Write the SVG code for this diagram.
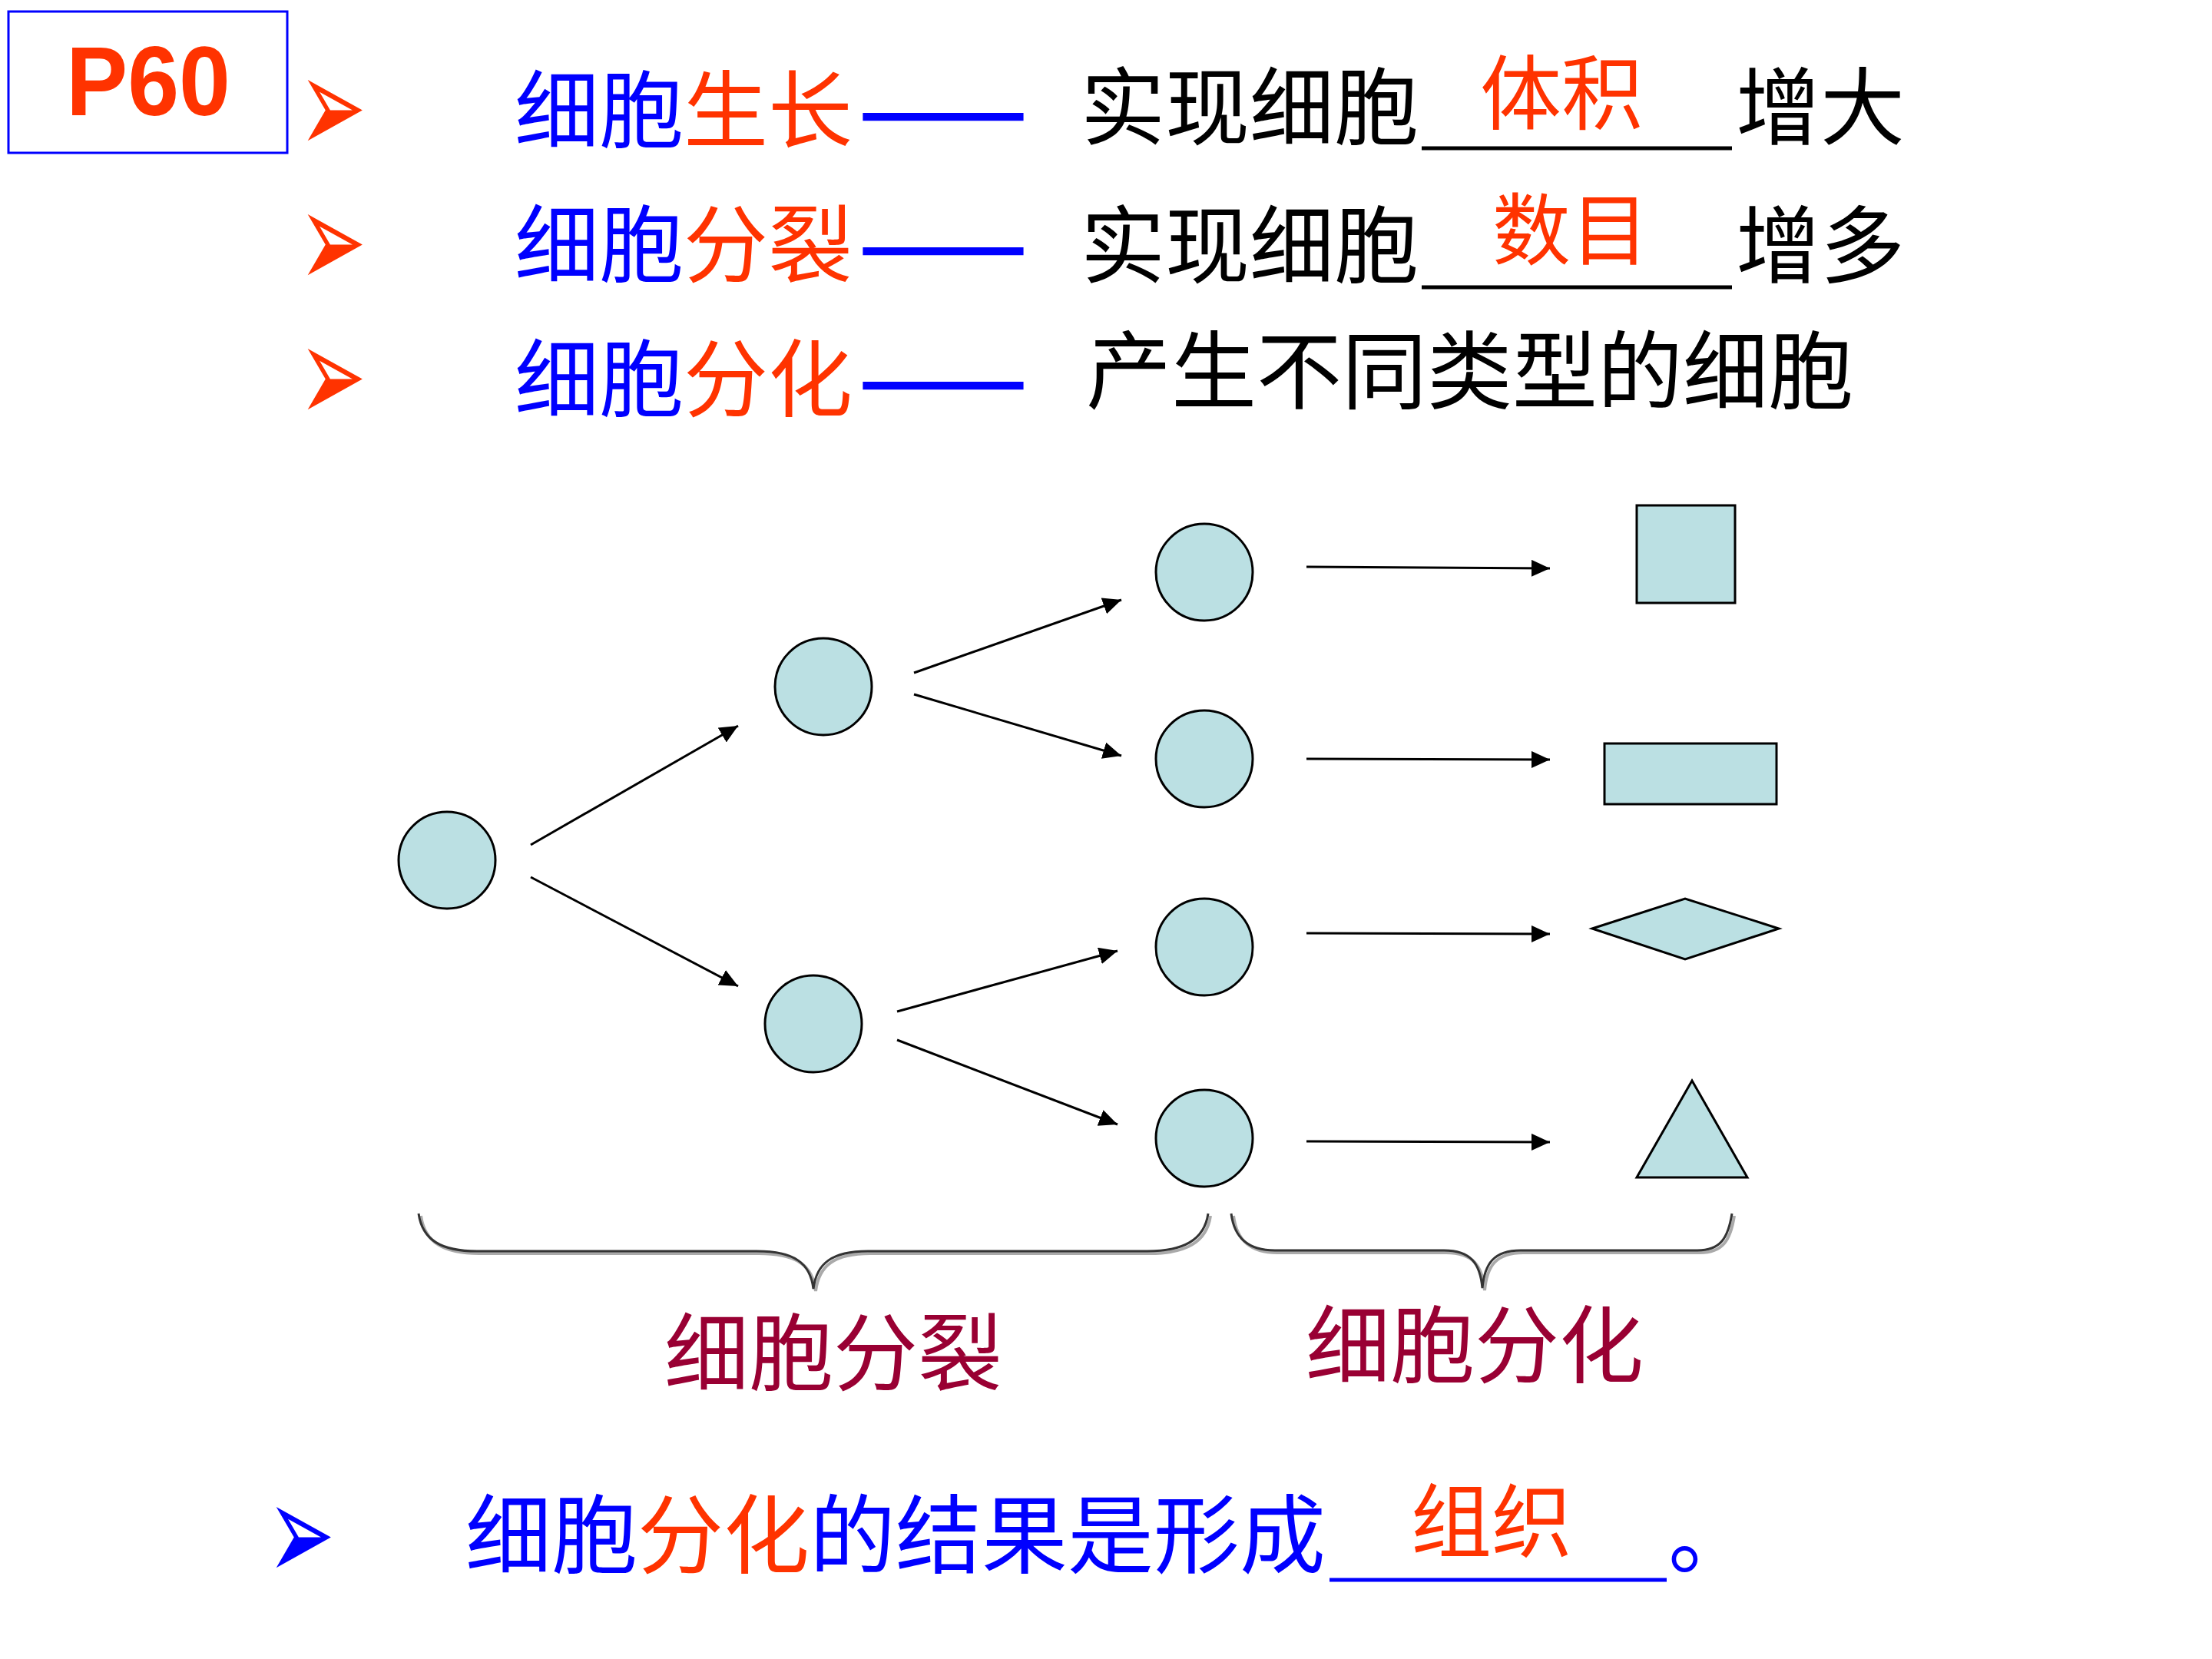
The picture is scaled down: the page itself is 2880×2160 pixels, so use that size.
<svg xmlns="http://www.w3.org/2000/svg" width="2880" height="2160" viewBox="0 0 2880 2160">
<defs>
<style>
.cjk{font-family:"Noto Sans CJK SC","Noto Sans",sans-serif;font-size:110px}
.dash{font-family:"Noto Sans CJK SC","Noto Sans",sans-serif;font-size:110px;font-weight:bold;fill:#0000FF}
.b{fill:#0000FF}
.r{fill:#FF3300}
.k{fill:#000000}
.m{fill:#990033}
.bul{font-family:"DejaVu Sans",sans-serif;font-size:100px}
.cell{fill:#BBE0E3;stroke:#000;stroke-width:3}
.conn line{stroke:#000;stroke-width:3;marker-end:url(#ah)}
.brace{fill:none;stroke:#333;stroke-width:3}
.brsh{fill:none;stroke:#AAA;stroke-width:4}
</style>
<marker id="ah" markerUnits="userSpaceOnUse" markerWidth="26" markerHeight="24" refX="24" refY="11" orient="auto">
<path d="M0,0 L24,11 L0,22 Z" fill="#000"/>
</marker>
</defs>
<rect width="2880" height="2160" fill="#fff"/>

<g id="p60">
<rect x="11" y="15" width="363" height="184" fill="none" stroke="#0000FF" stroke-width="3"/>
<text x="193" y="150" text-anchor="middle" font-family="Liberation Sans, Arial, sans-serif" font-weight="bold" font-size="128" fill="#FF3300" textLength="214" lengthAdjust="spacingAndGlyphs">P60</text>
</g>

<g id="row1">
<text class="bul r" transform="translate(389,200) scale(1.05,1.8)">➢</text>
<text class="cjk" x="670" y="184"><tspan class="b">细胞</tspan><tspan class="r">生长</tspan></text>
<text class="dash" x="1117" y="184" textLength="222" lengthAdjust="spacingAndGlyphs">——</text>
<text class="cjk k" x="1407" y="180">实现细胞</text>
<line x1="1851" y1="193" x2="2255" y2="193" stroke="#000" stroke-width="5"/>
<text class="cjk r" x="1927" y="160" style="font-size:106px">体积</text>
<text class="cjk k" x="2260" y="180">增大</text>
</g>

<g id="row2">
<text class="bul r" transform="translate(389,375) scale(1.05,1.8)">➢</text>
<text class="cjk" x="670" y="359"><tspan class="b">细胞</tspan><tspan class="r">分裂</tspan></text>
<text class="dash" x="1117" y="359" textLength="222" lengthAdjust="spacingAndGlyphs">——</text>
<text class="cjk k" x="1407" y="360">实现细胞</text>
<line x1="1851" y1="374" x2="2255" y2="374" stroke="#000" stroke-width="5"/>
<text class="cjk r" x="1943" y="337" style="font-size:102px">数目</text>
<text class="cjk k" x="2260" y="360">增多</text>
</g>

<g id="row3">
<text class="bul r" transform="translate(389,550) scale(1.05,1.8)">➢</text>
<text class="cjk" x="670" y="534"><tspan class="b">细胞</tspan><tspan class="r">分化</tspan></text>
<text class="dash" x="1117" y="534" textLength="222" lengthAdjust="spacingAndGlyphs">——</text>
<text class="cjk k" x="1414" y="524" style="font-size:111px">产生不同类型的细胞</text>
</g>

<g id="cellA"><circle class="cell" cx="582" cy="1120" r="63"/></g>
<g id="cellB"><circle class="cell" cx="1072" cy="894" r="63"/></g>
<g id="cellC"><circle class="cell" cx="1059" cy="1333" r="63"/></g>
<g id="cell1"><circle class="cell" cx="1568" cy="745" r="63"/></g>
<g id="cell2"><circle class="cell" cx="1568" cy="988" r="63"/></g>
<g id="cell3"><circle class="cell" cx="1568" cy="1233" r="63"/></g>
<g id="cell4"><circle class="cell" cx="1568" cy="1482" r="63"/></g>

<g id="shape1"><rect class="cell" x="2131" y="658" width="128" height="127"/></g>
<g id="shape2"><rect class="cell" x="2089" y="968" width="224" height="79"/></g>
<g id="shape3"><polygon class="cell" points="2073,1209 2194,1170 2316,1209 2194,1249"/></g>
<g id="shape4"><polygon class="cell" points="2203,1407 2275,1533 2131,1533"/></g>

<g id="connectors" class="conn">
<line x1="691" y1="1100" x2="961" y2="945"/>
<line x1="691" y1="1142" x2="961" y2="1284"/>
<line x1="1190" y1="876" x2="1460" y2="781"/>
<line x1="1190" y1="904" x2="1460" y2="984"/>
<line x1="1168" y1="1317" x2="1455" y2="1238"/>
<line x1="1168" y1="1354" x2="1455" y2="1464"/>
<line x1="1701" y1="738" x2="2018" y2="740"/>
<line x1="1701" y1="988" x2="2018" y2="989"/>
<line x1="1701" y1="1215" x2="2018" y2="1216"/>
<line x1="1701" y1="1486" x2="2018" y2="1487"/>
</g>

<g id="brace1">
<path class="brsh" d="M548,1583 C553,1618 578,1632 624,1632 L988,1632 C1038,1632 1058,1648 1062,1681 C1066,1648 1086,1632 1133,1632 L1497,1632 C1543,1632 1571,1618 1576,1583"/>
<path class="brace" d="M545,1580 C550,1615 575,1629 621,1629 L985,1629 C1035,1629 1055,1645 1059,1678 C1063,1645 1083,1629 1130,1629 L1494,1629 C1540,1629 1568,1615 1573,1580"/>
<text class="cjk m" x="865" y="1802">细胞分裂</text>
</g>

<g id="brace2">
<path class="brsh" d="M1606,1583 C1610,1615 1628,1631 1663,1631 L1883,1631 C1918,1631 1930,1648 1933,1680 C1936,1648 1948,1631 1983,1631 L2213,1631 C2243,1631 2253,1615 2258,1583"/>
<path class="brace" d="M1603,1580 C1607,1612 1625,1628 1660,1628 L1880,1628 C1915,1628 1927,1645 1930,1677 C1933,1645 1945,1628 1980,1628 L2210,1628 C2240,1628 2250,1612 2255,1580"/>
<text class="cjk m" x="1700" y="1792">细胞分化</text>
</g>

<g id="row4">
<text class="bul b" transform="translate(348,2058) scale(1.05,1.8)">➢</text>
<text class="cjk" x="606" y="2040" style="font-size:112px"><tspan class="b">细胞</tspan><tspan class="r">分化</tspan><tspan class="b">的结果是形成</tspan></text>
<line x1="1731" y1="2057" x2="2170" y2="2057" stroke="#0000FF" stroke-width="5"/>
<text class="cjk r" x="1837" y="2019" style="font-size:105px">组织</text>
<text class="cjk b" x="2172" y="2040">。</text>
</g>
</svg>
